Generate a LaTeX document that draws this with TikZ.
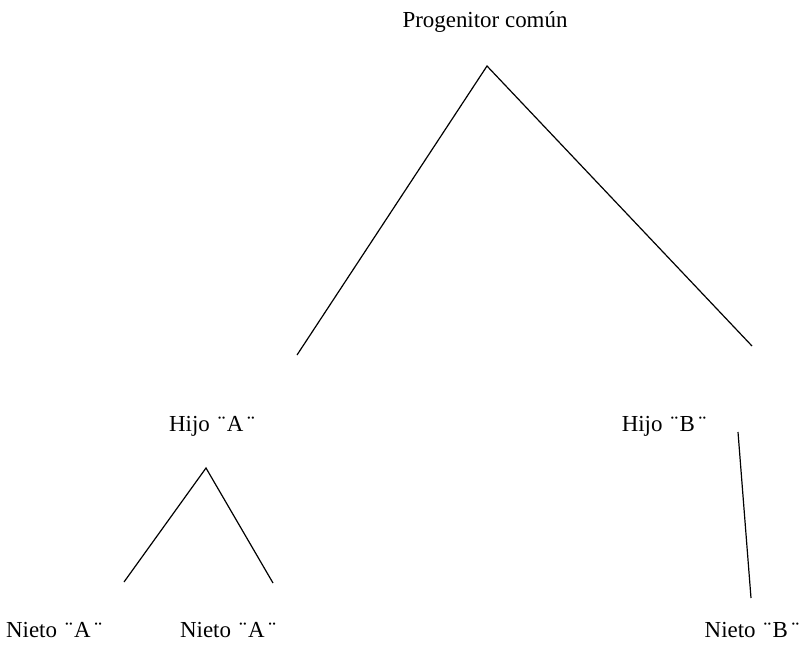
\documentclass[tikz,border=0pt]{standalone}
\usepackage{fontspec}
\setmainfont{Liberation Serif}
\usetikzlibrary{positioning}
% letter between diaeresis marks, spaced as in the drawing
\newcommand{\dier}[1]{\hspace{0.1em}¨\kern0.06em #1\kern0.16em¨}
\tikzset{
  % Plain serif label, no frame.
  lbl/.style  = {inner sep=0pt, font=\fontsize{17.2}{20}\selectfont},
  rama/.style = {line width=0.9pt, black},
}
\begin{document}
\begin{tikzpicture}[x=0.75pt,y=-0.75pt]
\useasboundingbox (0,0) rectangle (808,644);
\node[lbl] (prog)    at (485,22)  {Progenitor común};
\node[lbl] (hijoA)   at (212,426) {Hijo \dier{A}};
\node[lbl] (hijoB)   at (664,426) {Hijo \dier{B}};
\node[lbl] (nietoA1) at (54,630)  {Nieto \dier{A}};
\node[lbl] (nietoA2) at (228,630) {Nieto \dier{A}};
\node[lbl] (nietoB)  at (752,630) {Nieto \dier{B}};
% ends of the branches
\coordinate (pTop) at (487,66);
\coordinate (pL)   at (297,355);
\coordinate (pR)   at (752,346);
\coordinate (aTop) at (206,468);
\coordinate (aL)   at (124,582);
\coordinate (aR)   at (273,583);
\coordinate (bTop) at (738,432);
\coordinate (bBot) at (751,598);
\draw[rama] (pL) -- (pTop) -- (pR);
\draw[rama] (aL) -- (aTop) -- (aR);
\draw[rama] (bTop) -- (bBot);
\end{tikzpicture}
\end{document}
